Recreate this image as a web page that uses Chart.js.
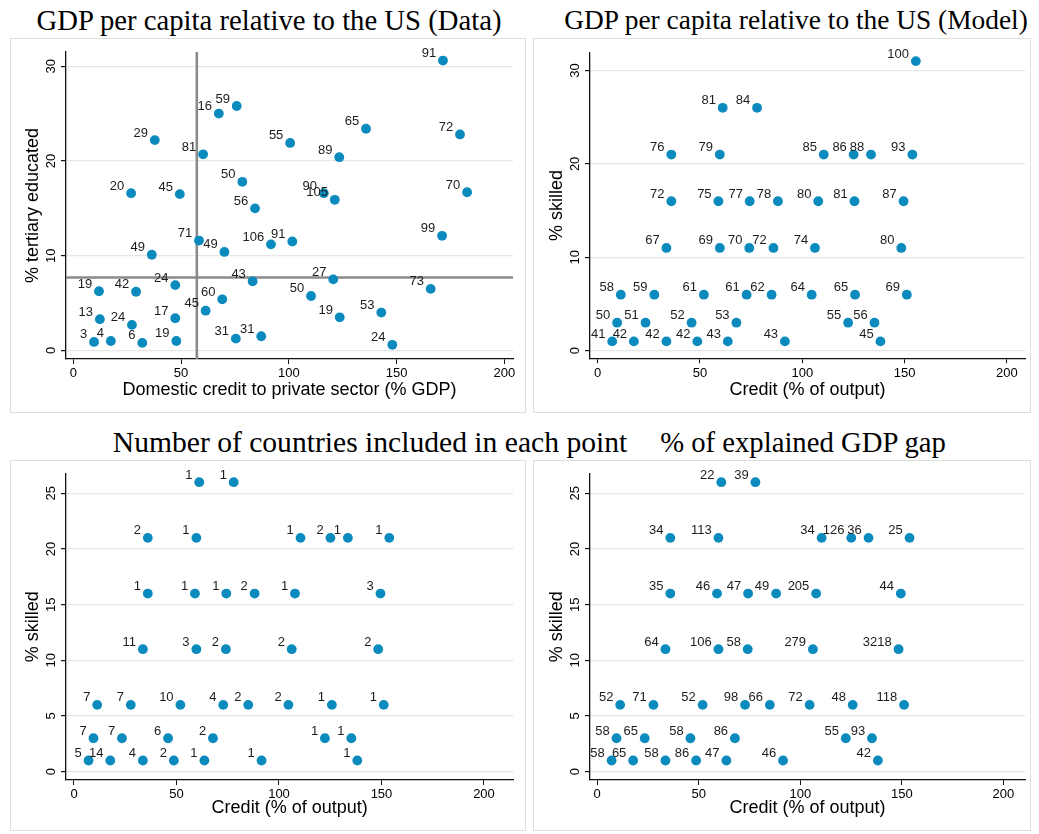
<!DOCTYPE html>
<html>
<head>
<meta charset="utf-8">
<script src="https://cdn.jsdelivr.net/npm/chart.js@4.4.1/dist/chart.umd.min.js"></script>
<style>
  body { margin: 0; background: #fff; width: 1039px; height: 834px; position: relative; overflow: hidden; }
  .frame { position: absolute; border: 1px solid #dedede; box-sizing: border-box; }
  canvas { position: absolute; }
  .ttl { position: absolute; width: 700px; height: 34px; line-height: 34px; text-align: center; white-space: nowrap;
         font-family: "Liberation Serif", serif; font-size: 28.7px; color: #000; }
</style>
</head>
<body>
<div class="frame" style="left:10px;top:38px;width:516px;height:375px"></div>
<div class="frame" style="left:533px;top:38px;width:498px;height:375px"></div>
<div class="frame" style="left:10px;top:460px;width:516px;height:371px"></div>
<div class="frame" style="left:533px;top:460px;width:498px;height:371px"></div>

<div class="ttl" style="left:-81px;top:3px">GDP per capita relative to the US (Data)</div>
<div class="ttl" style="left:446px;top:3px;font-size:27.4px">GDP per capita relative to the US (Model)</div>
<div class="ttl" style="left:20px;top:425px;font-size:29.6px">Number of countries included in each point</div>
<div class="ttl" style="left:453px;top:425px">% of explained GDP gap</div>

<canvas id="c1" width="515" height="374" style="left:10px;top:38px"></canvas>
<canvas id="c2" width="497" height="374" style="left:533px;top:38px"></canvas>
<canvas id="c3" width="515" height="370" style="left:10px;top:460px"></canvas>
<canvas id="c4" width="497" height="370" style="left:533px;top:460px"></canvas>

<script>
// data panel: domestic credit (% GDP), tertiary educated (%), GDP rel. to US
var dataCredit = [171.5, 75.8, 67.5, 37.8, 100.6, 135.8, 179.4, 60.2, 123.4, 26.8,
  49.4, 78.4, 116.2, 121.3, 182.7, 84.3, 58.3, 70.1, 91.7, 101.6,
  36.4, 171.1, 47.3, 83.2, 120.6, 165.8, 11.9, 29.1, 69.1, 110.3,
  61.4, 142.9, 12.3, 47.3, 123.6, 27.2, 9.6, 17.4, 32.0, 47.8,
  75.4, 87.2, 148.0];
var dataTertiary = [30.6, 25.8, 25.0, 22.2, 21.9, 23.4, 22.8, 20.7, 20.4, 16.6,
  16.5, 17.8, 16.6, 15.9, 16.7, 15.0, 11.6, 10.4, 11.2, 11.5,
  10.1, 12.1, 6.9, 7.3, 7.5, 6.5, 6.25, 6.2, 5.4, 5.75,
  4.2, 4.0, 3.3, 3.4, 3.5, 2.7, 0.9, 1.0, 0.8, 1.0,
  1.25, 1.5, 0.6];
var dataGdpLabels = [91, 59, 16, 29, 55, 65, 72, 81, 89, 20,
  45, 50, 90, 105, 70, 56, 71, 49, 106, 91,
  49, 99, 24, 43, 27, 73, 19, 42, 60, 50,
  45, 53, 13, 17, 19, 24, 3, 4, 6, 19,
  31, 31, 24];
var dataCreditMean = 57.3;
var dataTertiaryMean = 7.7;

// model panel: credit (% of output), % skilled, GDP rel. to US
var modelCredit = [155.5, 61.1, 77.9, 36.0, 59.7, 110.5, 125.1, 133.6, 153.8,
  36.0, 59.0, 74.3, 88.1, 107.8, 125.5, 149.5,
  33.6, 59.7, 74.1, 85.9, 106.2, 148.4,
  11.3, 27.7, 51.9, 72.8, 85.0, 104.6, 125.8, 151.1,
  9.5, 23.4, 45.9, 67.8, 122.4, 135.3,
  7.1, 17.7, 33.6, 48.7, 63.6, 91.5, 138.2];
var modelSkilled = [31, 26, 26, 21, 21, 21, 21, 21, 21,
  16, 16, 16, 16, 16, 16, 16,
  11, 11, 11, 11, 11, 11,
  6, 6, 6, 6, 6, 6, 6, 6,
  3, 3, 3, 3, 3, 3,
  1, 1, 1, 1, 1, 1, 1];
var modelGdpLabels = [100, 81, 84, 76, 79, 85, 86, 88, 93,
  72, 75, 77, 78, 80, 81, 87,
  67, 69, 70, 72, 74, 80,
  58, 59, 61, 61, 62, 64, 65, 69,
  50, 51, 52, 53, 55, 56,
  41, 42, 42, 42, 43, 43, 45];

// bottom panels: grid points with countries
var gridCredit = [61.1, 77.9, 36.0, 59.7, 110.5, 125.1, 133.6, 153.8,
  36.0, 59.0, 74.3, 88.1, 107.8, 149.5,
  33.6, 59.7, 74.1, 106.2, 148.4,
  11.3, 27.7, 51.9, 72.8, 85.0, 104.6, 125.8, 151.1,
  9.5, 23.4, 45.9, 67.8, 122.4, 135.3,
  7.1, 17.7, 33.6, 48.7, 63.6, 91.5, 138.2];
var gridSkilled = [26, 26, 21, 21, 21, 21, 21, 21,
  16, 16, 16, 16, 16, 16,
  11, 11, 11, 11, 11,
  6, 6, 6, 6, 6, 6, 6, 6,
  3, 3, 3, 3, 3, 3,
  1, 1, 1, 1, 1, 1, 1];
var countryCounts = [1, 1, 2, 1, 1, 2, 1, 1,
  1, 1, 1, 2, 1, 3,
  11, 3, 2, 2, 2,
  7, 7, 10, 4, 2, 2, 1, 1,
  7, 7, 6, 2, 1, 1,
  5, 14, 4, 2, 1, 1, 1];
var explainedGap = [22, 39, 34, 113, 34, 126, 36, 25,
  35, 46, 47, 49, 205, 44,
  64, 106, 58, 279, 3218,
  52, 71, 52, 98, 66, 72, 48, 118,
  58, 65, 58, 86, 55, 93,
  58, 65, 58, 86, 47, 46, 42];

var dotColor = '#0b8abd';
var sans = '"Liberation Sans", Arial, sans-serif';

// mean lines (data panel only), drawn under the dots
var refLinePlugin = {
  id: 'refLines',
  beforeDatasetsDraw: function (chart, args, opts) {
    if (opts.x == null) return;
    var ctx = chart.ctx, a = chart.chartArea;
    var px = chart.scales.x.getPixelForValue(opts.x);
    var py = chart.scales.y.getPixelForValue(opts.y);
    ctx.save();
    ctx.strokeStyle = '#8a8a8a';
    ctx.lineWidth = 2.6;
    ctx.beginPath();
    ctx.moveTo(px, a.top); ctx.lineTo(px, a.bottom);
    ctx.moveTo(a.left, py); ctx.lineTo(a.right, py);
    ctx.stroke();
    ctx.restore();
  }
};

// marker labels at 11 o'clock
var pointLabelPlugin = {
  id: 'pointLabels',
  afterDatasetsDraw: function (chart) {
    var ctx = chart.ctx;
    var meta = chart.getDatasetMeta(0);
    var labels = chart.data.datasets[0].pointLabels;
    ctx.save();
    ctx.fillStyle = '#1c1c1c';
    ctx.font = '13px ' + sans;
    ctx.textAlign = 'right';
    ctx.textBaseline = 'alphabetic';
    meta.data.forEach(function (el, i) {
      ctx.fillText(String(labels[i]), el.x - 6.8, el.y - 3.5);
    });
    ctx.restore();
  }
};

// stata style vertical y tick labels
var yTickPlugin = {
  id: 'yTickText',
  afterDraw: function (chart) {
    var s = chart.scales.y, ctx = chart.ctx;
    ctx.save();
    ctx.fillStyle = '#000';
    ctx.font = '13px ' + sans;
    ctx.textAlign = 'center';
    ctx.textBaseline = 'alphabetic';
    s.ticks.forEach(function (t) {
      ctx.save();
      ctx.translate(s.right - 11.5, s.getPixelForValue(t.value));
      ctx.rotate(-Math.PI / 2);
      ctx.fillText(String(t.value), 0, 0);
      ctx.restore();
    });
    ctx.restore();
  }
};

function makeChart(id, xs, ys, labels, c) {
  var pts = xs.map(function (x, i) { return {x: x, y: ys[i]}; });
  return new Chart(document.getElementById(id), {
    type: 'scatter',
    data: {
      datasets: [{
        data: pts,
        pointLabels: labels,
        backgroundColor: dotColor,
        borderColor: dotColor,
        borderWidth: 0,
        pointRadius: 4.9,
        pointHoverRadius: 4.9
      }]
    },
    options: {
      responsive: false,
      animation: false,
      events: [],
      layout: {padding: c.padding},
      plugins: {
        legend: {display: false},
        tooltip: {enabled: false},
        refLines: c.ref || {}
      },
      scales: {
        x: {
          type: 'linear',
          min: c.xMin, max: c.xMax,
          afterFit: function (s) { s.height = c.xH; },
          border: {display: true, color: '#111', width: 1.3},
          grid: {drawOnChartArea: false, drawTicks: true, tickLength: 5, tickColor: '#111'},
          ticks: {stepSize: 50, includeBounds: false, color: '#000', padding: 2, maxRotation: 0,
                  font: {family: sans, size: 13}},
          title: {display: true, text: c.xTitle, color: '#000', font: {family: sans, size: 18},
                  padding: {top: 0, bottom: 11}}
        },
        y: {
          type: 'linear',
          min: c.yMin, max: c.yMax,
          afterFit: function (s) { s.width = c.yW; },
          border: {display: true, color: '#111', width: 1.3},
          grid: {color: '#e6e6e6', lineWidth: 1.2, drawTicks: true, tickLength: 5, tickColor: '#111'},
          ticks: {display: false, stepSize: c.yStep, includeBounds: false},
          title: {display: true, text: c.yTitle, color: '#000', font: {family: sans, size: 18},
                  padding: {top: c.yTitlePad, bottom: 0}}
        }
      }
    },
    plugins: [refLinePlugin, pointLabelPlugin, yTickPlugin]
  });
}

makeChart('c1', dataCredit, dataTertiary, dataGdpLabels, {
  padding: {top: 14, right: 12, left: 0, bottom: 0}, xH: 53, yW: 56,
  xMin: -3.4, xMax: 204, yMin: -0.9, yMax: 31.5, yStep: 10, yTitlePad: 12,
  xTitle: 'Domestic credit to private sector (% GDP)', yTitle: '% tertiary educated',
  ref: {x: dataCreditMean, y: dataTertiaryMean}
});
makeChart('c2', modelCredit, modelSkilled, modelGdpLabels, {
  padding: {top: 14.7, right: 2, left: 0, bottom: 0}, xH: 53.7, yW: 57,
  xMin: -3.75, xMax: 208.9, yMin: -0.81, yMax: 31.9, yStep: 10, yTitlePad: 13,
  xTitle: 'Credit (% of output)', yTitle: '% skilled'
});
makeChart('c3', gridCredit, gridSkilled, countryCounts, {
  padding: {top: 13.3, right: 11.7, left: 0, bottom: 0}, xH: 50, yW: 56,
  xMin: -3.9, xMax: 214.3, yMin: -0.75, yMax: 26.8, yStep: 5, yTitlePad: 12,
  xTitle: 'Credit (% of output)', yTitle: '% skilled'
});
makeChart('c4', gridCredit, gridSkilled, explainedGap, {
  padding: {top: 13.3, right: 1, left: 0, bottom: 0}, xH: 50, yW: 57,
  xMin: -3.55, xMax: 210.7, yMin: -0.75, yMax: 26.8, yStep: 5, yTitlePad: 13,
  xTitle: 'Credit (% of output)', yTitle: '% skilled'
});
</script>
</body>
</html>
